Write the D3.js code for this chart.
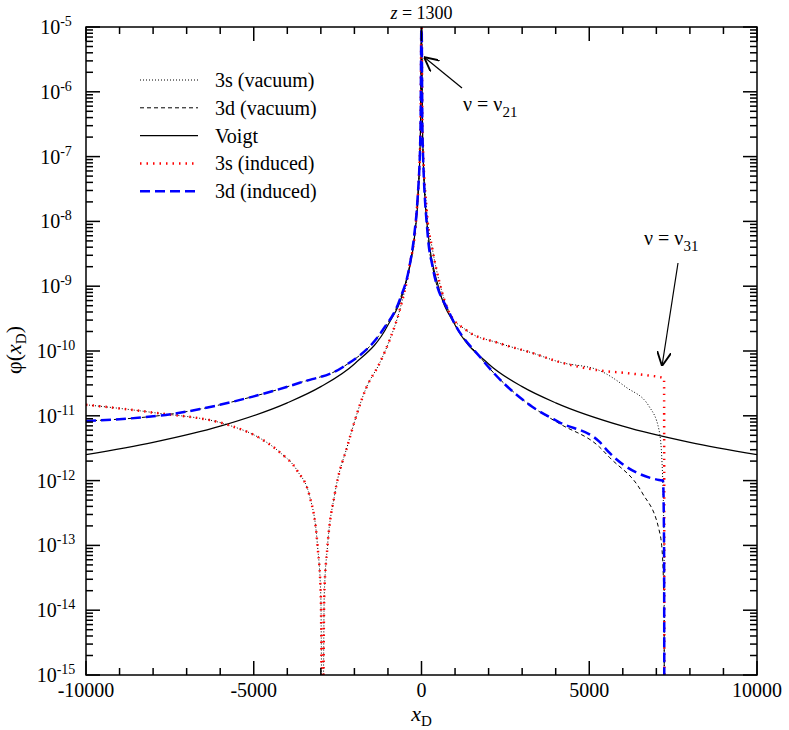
<!DOCTYPE html>
<html><head><meta charset="utf-8">
<script src="https://cdn.jsdelivr.net/npm/d3@7"></script>
<style>body{margin:0;background:#fff}</style>
</head><body><div id="chart"></div>
<script>
// values are log10(phi)
var voigtX = [-10000,-8000,-6000,-4000,-3000,-2000,-1000,-500,-200,-100,-30,-10,0,10,30,100,200,500,1000,2000,3000,4000,6000,8000,10000];
var voigtY = [-11.6,-11.41,-11.16,-10.8,-10.55,-10.2,-9.6,-9.0,-8.2,-7.6,-6.55,-5.6,-4.8,-5.6,-6.55,-7.6,-8.2,-9.0,-9.6,-10.2,-10.55,-10.8,-11.16,-11.41,-11.6];

var d3vacX = [-10000,-7290,-5000,-3630,-2350,-1160,-650,-360,-210,-120,-30,0,30,180,330,830,1820,3300,4110,5300,5600,6580,7080,7170,7230,7240];
var d3vacY = [-11.08,-10.96,-10.7,-10.49,-10.25,-9.68,-9.21,-8.7,-8.18,-7.67,-6.6,-4.8,-6.7,-8.18,-8.7,-9.41,-10.14,-10.86,-11.12,-11.48,-11.64,-12.19,-12.76,-13.07,-14.0,-17];

var d3indX = [-10000,-7290,-5000,-3630,-2350,-1160,-650,-360,-210,-120,-30,0,30,180,330,830,1820,3300,4110,5300,5600,7080,7200,7230,7240];
var d3indY = [-11.08,-10.96,-10.7,-10.49,-10.25,-9.68,-9.21,-8.7,-8.18,-7.67,-6.6,-4.8,-6.7,-8.18,-8.7,-9.41,-10.14,-10.86,-11.1,-11.4,-11.57,-11.99,-12.0,-13.0,-17];

var s3vacX = [-10000,-8000,-5770,-4800,-4230,-3700,-3330,-3100,-3000,-2950,-2900,-2800,-2590,-2200,-1640,-1250,-950,-650,-360,-150,-30,0,30,150,330,540,830,1340,2320,3300,4110,5300,6100,6790,7080,7170,7230,7240];
var s3vacY = [-10.83,-10.95,-11.14,-11.35,-11.56,-11.85,-12.25,-13.0,-13.8,-17,-13.8,-13.0,-12.22,-11.45,-10.56,-10.19,-9.83,-9.37,-8.7,-7.9,-6.6,-4.8,-6.6,-7.8,-8.44,-8.95,-9.41,-9.68,-9.88,-10.03,-10.17,-10.3,-10.56,-10.86,-11.22,-11.73,-13.0,-17];

var s3indX = s3vacX.slice(0, 32).concat([6100,6790,7080,7230,7240]);
var s3indY = s3vacY.slice(0, 32).concat([-10.34,-10.38,-10.4,-10.42,-17]);

var xTicks = [-10000,-5000,0,5000,10000];
var yExps = [-15,-14,-13,-12,-11,-10,-9,-8,-7,-6,-5];

var series = [
  {name:"3s (vacuum)", xs:s3vacX, ys:s3vacY, color:"#000", w:1, dash:"1,2"},
  {name:"3d (vacuum)", xs:d3vacX, ys:d3vacY, color:"#000", w:1, dash:"4,3"},
  {name:"Voigt", xs:voigtX, ys:voigtY, color:"#000", w:1.2, dash:null},
  {name:"3s (induced)", xs:s3indX, ys:s3indY, color:"#ff0000", w:2.5, dash:"1.5,5"},
  {name:"3d (induced)", xs:d3indX, ys:d3indY, color:"#0000ff", w:2.5, dash:"10,5"}
];

var W = 789, H = 730;
var L = 86, R = 757, T = 27, B = 675;
var FONT = "'Liberation Serif', 'DejaVu Serif', serif";

var svg = d3.select("#chart").append("svg").attr("width", W).attr("height", H)
  .attr("font-family", FONT);

var x = d3.scaleLinear().domain([-10000, 10000]).range([L, R]);
var y = d3.scaleLog().domain([1e-15, 1e-5]).range([B, T]);

svg.append("clipPath").attr("id", "clip")
  .append("rect").attr("x", L).attr("y", T).attr("width", R - L).attr("height", B - T);

var line = d3.line().curve(d3.curveMonotoneX)
  .x(function(d){ return x(d[0]); }).y(function(d){ return y(Math.pow(10, d[1])); });

var plot = svg.append("g").attr("clip-path", "url(#clip)");
series.forEach(function(s){
  var pts = s.xs.map(function(v, i){ return [v, s.ys[i]]; });
  plot.append("path").datum(pts).attr("d", line)
    .attr("fill", "none").attr("stroke", s.color).attr("stroke-width", s.w)
    .attr("stroke-dasharray", s.dash);
});

// frame + ticks (inside, mirrored)
var ax = svg.append("g").attr("stroke", "#000").attr("stroke-width", 1.5);
ax.append("rect").attr("x", L).attr("y", T).attr("width", R - L).attr("height", B - T).attr("fill", "none");
d3.range(-10000, 10001, 1000).forEach(function(v){
  var len = v % 5000 === 0 ? 14 : 7;
  ax.append("line").attr("x1", x(v)).attr("x2", x(v)).attr("y1", B).attr("y2", B - len);
  ax.append("line").attr("x1", x(v)).attr("x2", x(v)).attr("y1", T).attr("y2", T + len);
});
yExps.forEach(function(e){
  for (var m = 1; m <= 9; m++) {
    if (e === -5 && m > 1) break;
    var py = y(m * Math.pow(10, e)), len = m === 1 ? 14 : 7;
    ax.append("line").attr("x1", L).attr("x2", L + len).attr("y1", py).attr("y2", py);
    ax.append("line").attr("x1", R).attr("x2", R - len).attr("y1", py).attr("y2", py);
  }
});

svg.selectAll(".xt").data(xTicks).enter().append("text")
  .attr("x", function(d){ return x(d); }).attr("y", B + 22)
  .attr("text-anchor", "middle").style("font-size", "20px").text(function(d){ return d; });

var yt = svg.selectAll(".yt").data(yExps).enter().append("text")
  .attr("x", L - 30).attr("y", function(d){ return y(Math.pow(10, d)) + 7; })
  .attr("text-anchor", "middle").style("font-size", "20px");
yt.append("tspan").text("10");
yt.append("tspan").attr("dy", -8).style("font-size", "14px").text(function(d){ return "-" + Math.abs(d); });

// axis titles
var xl = svg.append("text").attr("x", x(0)).attr("y", 721).attr("text-anchor", "middle").style("font-size", "22px");
xl.append("tspan").style("font-style", "italic").text("x");
xl.append("tspan").attr("dy", 5).style("font-size", "15px").text("D");

var yl = svg.append("text").attr("transform", "translate(21," + 350 + ")rotate(-90)").attr("text-anchor", "middle").style("font-size", "22px");
yl.append("tspan").text("φ(");
yl.append("tspan").style("font-style", "italic").text("x");
yl.append("tspan").attr("dy", 5).style("font-size", "15px").text("D");
yl.append("tspan").attr("dy", -5).text(")");

var tl = svg.append("text").attr("x", x(0)).attr("y", 19).attr("text-anchor", "middle").style("font-size", "18px");
tl.append("tspan").style("font-style", "italic").text("z");
tl.append("tspan").text(" = 1300");

// legend
var leg = svg.append("g").selectAll("g").data(series).enter().append("g")
  .attr("transform", function(d, i){ return "translate(140," + (80 + i * 27.8) + ")"; });
leg.append("line").attr("x1", 0).attr("x2", 58).attr("y1", 0).attr("y2", 0)
  .attr("stroke", function(d){ return d.color; }).attr("stroke-width", function(d){ return d.w; })
  .attr("stroke-dasharray", function(d){ return d.dash; });
leg.append("text").attr("x", 75).attr("y", 7).style("font-size", "20px").text(function(d){ return d.name; });

// annotations
svg.append("defs").append("marker").attr("id", "arr").attr("viewBox", "0 0 10 10")
  .attr("refX", 10).attr("refY", 5).attr("markerWidth", 12).attr("markerHeight", 12).attr("orient", "auto")
  .append("path").attr("d", "M0,0 L10,5 L0,10").attr("fill", "none").attr("stroke", "#000").attr("stroke-width", 1.3);
svg.append("line").attr("x1", 462).attr("y1", 88).attr("x2", 424).attr("y2", 57)
  .attr("stroke", "#000").attr("stroke-width", 1.2).attr("marker-end", "url(#arr)");
svg.append("line").attr("x1", 678).attr("y1", 263).attr("x2", 662).attr("y2", 366)
  .attr("stroke", "#000").attr("stroke-width", 1.2).attr("marker-end", "url(#arr)");

function nuLabel(px, py, sub){
  var t = svg.append("text").attr("x", px).attr("y", py).style("font-size", "20px");
  t.append("tspan").text("ν = ν");
  t.append("tspan").attr("dy", 6).style("font-size", "15px").text(sub);
}
nuLabel(463, 111, "21");
nuLabel(644, 245, "31");
</script></body></html>
